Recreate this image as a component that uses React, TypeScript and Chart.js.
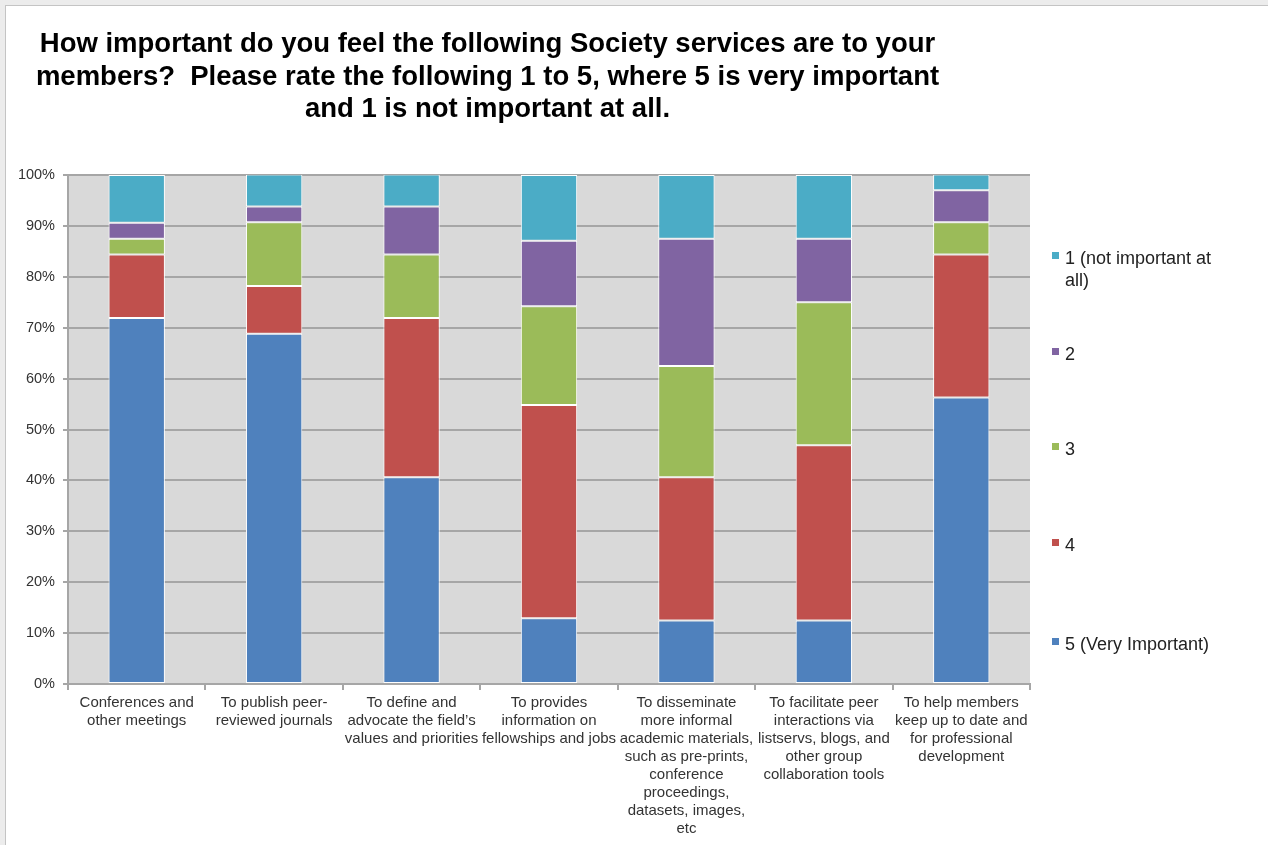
import React, { useEffect, useRef } from 'react';
import { Chart, registerables } from 'chart.js';

Chart.register(...registerables);

const categories: string[][] = [
  ['Conferences and', 'other meetings'],
  ['To publish peer-', 'reviewed journals'],
  ['To define and', 'advocate the field’s', 'values and priorities'],
  ['To provides', 'information on', 'fellowships and jobs'],
  ['To disseminate', 'more informal', 'academic materials,', 'such as pre-prints,', 'conference', 'proceedings,', 'datasets, images,', 'etc'],
  ['To facilitate peer', 'interactions via', 'listservs, blogs, and', 'other group', 'collaboration tools'],
  ['To help members', 'keep up to date and', 'for professional', 'development'],
];

const rating5 = [71.9, 68.8, 40.6, 12.9, 12.5, 12.5, 56.3];
const rating4 = [12.5, 9.4, 31.3, 41.9, 28.1, 34.4, 28.1];
const rating3 = [3.1, 12.5, 12.5, 19.4, 21.9, 28.1, 6.3];
const rating2 = [3.1, 3.1, 9.4, 12.9, 25.0, 12.5, 6.3];
const rating1 = [9.4, 6.3, 6.3, 12.9, 12.5, 12.5, 3.1];

const seriesLabels = ['5 (Very Important)', '4', '3', '2', '1 (not important at all)'];
const seriesColors = ['#4f81bd', '#c0504d', '#9bbb59', '#8064a2', '#4bacc6'];

const titleLines = [
  'How important do you feel the following Society services are to your',
  'members?  Please rate the following 1 to 5, where 5 is very important',
  'and 1 is not important at all.',
];

const FONT = '"Liberation Sans", Arial, Helvetica, sans-serif';

const plotBg = {
  id: 'plotBg',
  beforeDraw(chart: any) {
    const { ctx, chartArea } = chart;
    if (!chartArea) return;
    ctx.save();
    ctx.fillStyle = '#d9d9d9';
    ctx.fillRect(chartArea.left, chartArea.top, chartArea.right - chartArea.left, chartArea.bottom - chartArea.top);
    ctx.restore();
  },
};

export default function App() {
  const canvasRef = useRef<HTMLCanvasElement | null>(null);

  useEffect(() => {
    if (!canvasRef.current) return;
    const values = [rating5, rating4, rating3, rating2, rating1];
    const chart = new Chart(canvasRef.current, {
      type: 'bar',
      data: {
        labels: categories,
        datasets: values.map((v, i) => ({
          label: seriesLabels[i],
          data: v,
          backgroundColor: seriesColors[i],
          borderColor: '#ffffff',
          borderWidth: 1,
          borderSkipped: false,
          barPercentage: 0.41,
          categoryPercentage: 1,
        })),
      },
      options: {
        responsive: false,
        animation: false,
        layout: { padding: { left: 8, top: 175, right: 238, bottom: 0 } },
        plugins: {
          legend: { display: false },
          title: { display: false },
          tooltip: { enabled: false },
        },
        scales: {
          x: {
            stacked: true,
            afterFit: (scale: any) => {
              scale.height = 161;
            },
            grid: {
              drawOnChartArea: false,
              drawTicks: true,
              tickLength: 6,
              color: '#a6a6a6',
              lineWidth: 2,
            },
            border: { color: '#a6a6a6', width: 2 },
            ticks: {
              color: '#333333',
              font: { family: FONT, size: 15, lineHeight: 1.2 },
              padding: 4,
              maxRotation: 0,
              autoSkip: false,
            },
          },
          y: {
            stacked: true,
            min: 0,
            max: 100,
            afterFit: (scale: any) => {
              scale.width = 60;
            },
            grid: {
              color: '#a6a6a6',
              lineWidth: 2,
              tickLength: 5,
            },
            border: { color: '#a6a6a6', width: 2 },
            ticks: {
              stepSize: 10,
              color: '#333333',
              font: { family: FONT, size: 14.5 },
              padding: 8,
              callback: (v: any) => `${v}%`,
            },
          },
        },
      },
      plugins: [plotBg],
    });
    return () => chart.destroy();
  }, []);

  const legendItems = [
    { color: seriesColors[4], lines: ['1 (not important at', 'all)'], top: 247 },
    { color: seriesColors[3], lines: ['2'], top: 343 },
    { color: seriesColors[2], lines: ['3'], top: 438 },
    { color: seriesColors[1], lines: ['4'], top: 534 },
    { color: seriesColors[0], lines: ['5 (Very Important)'], top: 633 },
  ];

  return (
    <div
      style={{
        position: 'fixed',
        left: 0,
        top: 0,
        width: 1268,
        height: 845,
        overflow: 'hidden',
        background: '#ececec',
        fontFamily: FONT,
      }}
    >
      <div
        style={{
          position: 'absolute',
          left: 5,
          top: 5,
          width: 1300,
          height: 900,
          background: '#ffffff',
          border: '1.5px solid #c4c4c4',
        }}
      />
      <canvas ref={canvasRef} width={1268} height={845} style={{ position: 'absolute', left: 0, top: 0 }} />
      <div
        style={{
          position: 'absolute',
          left: 0,
          top: 27,
          width: 975,
          textAlign: 'center',
          fontWeight: 'bold',
          fontSize: 27.5,
          letterSpacing: 0,
          lineHeight: '32.5px',
          color: '#000',
          whiteSpace: 'nowrap',
        }}
      >
        {titleLines.map((l, i) => (
          <div key={i} style={{ whiteSpace: 'pre' }}>{l}</div>
        ))}
      </div>
      {legendItems.map((it, i) => (
        <div key={i} style={{ position: 'absolute', left: 1052, top: it.top, fontSize: 18, lineHeight: '22px', color: '#222' }}>
          <div style={{ position: 'absolute', left: 0, top: 4.5, width: 7, height: 7, background: it.color }} />
          <div style={{ marginLeft: 13, whiteSpace: 'nowrap' }}>
            {it.lines.map((l, j) => (
              <div key={j}>{l}</div>
            ))}
          </div>
        </div>
      ))}
    </div>
  );
}
